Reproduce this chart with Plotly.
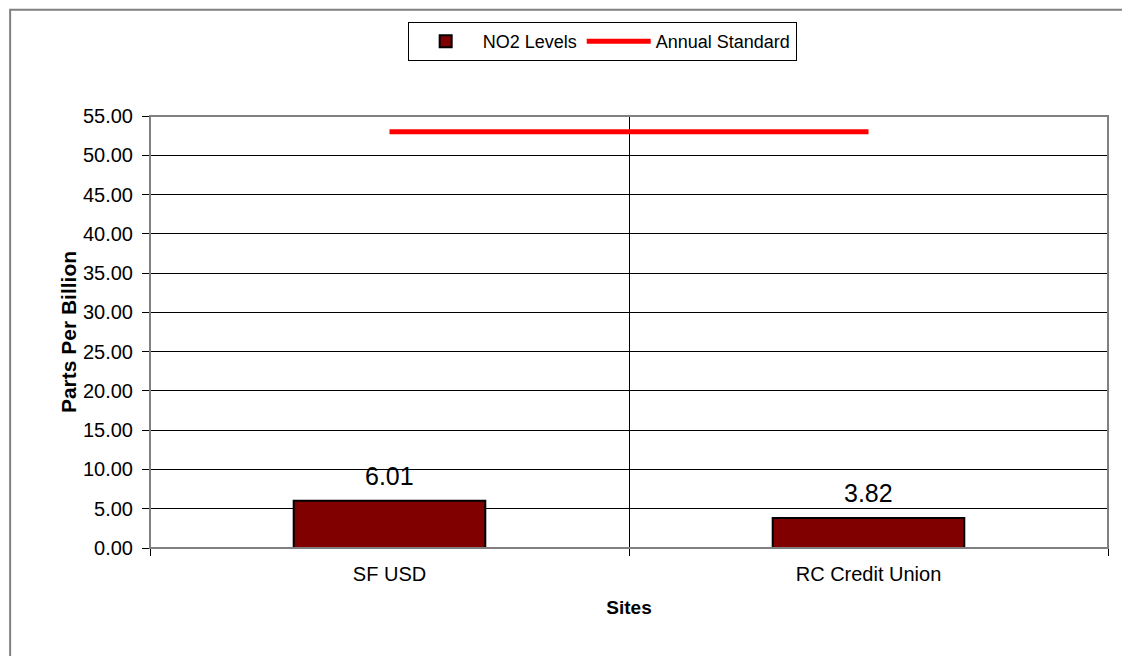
import plotly.graph_objects as go

sites = ["SF USD", "RC Credit Union"]
no2_levels = [6.01, 3.82]
annual_standard = [53, 53]
y_ticks = [0, 5, 10, 15, 20, 25, 30, 35, 40, 45, 50, 55]

FONT = "Liberation Sans, Arial, sans-serif"

fig = go.Figure()
fig.add_trace(go.Bar(
    x=sites, y=no2_levels, name="NO2 Levels", width=0.4,
    marker=dict(color="#800000", line=dict(color="#000000", width=2)),
))
fig.add_trace(go.Scatter(
    x=sites, y=annual_standard, name="Annual Standard", mode="lines",
    line=dict(color="#FF0000", width=5),
))

for s, v in zip(sites, no2_levels):
    fig.add_annotation(x=s, y=v, text=f"{v:.2f}", showarrow=False,
                       yanchor="bottom", yshift=9,
                       font=dict(family=FONT, size=25, color="#000000"))

# plot area frame
fig.add_shape(type="rect", xref="paper", yref="paper", x0=0, x1=1, y0=0, y1=1,
              line=dict(color="#808080", width=2), layer="above")
# outer chart frame
fig.add_shape(type="rect", xref="paper", yref="paper", x0=-0.146, x1=1.05,
              y0=-0.3, y1=1.246, line=dict(color="#808080", width=2))

fig.update_layout(
    width=1122, height=648,
    margin=dict(l=142, r=22, t=108, b=108),
    paper_bgcolor="white", plot_bgcolor="white",
    font=dict(family=FONT, color="#000000"),
    showlegend=True,
    legend=dict(orientation="h", x=0.472, xanchor="center", y=1.2176, yanchor="top",
                bordercolor="#000000", borderwidth=1, bgcolor="white",
                font=dict(family=FONT, size=18), itemwidth=64,
                traceorder="normal"),
    bargap=0.6,
)
fig.update_xaxes(
    type="category", range=[-0.5, 1.5], tickson="boundaries",
    ticks="outside", ticklen=7, tickcolor="#000000",
    showgrid=True, gridcolor="#000000", gridwidth=1,
    showline=False, tickfont=dict(family=FONT, size=20), ticklabelstandoff=12,
    title=dict(text="<b>Sites</b>", font=dict(family=FONT, size=19), standoff=16),
)
fig.update_yaxes(
    range=[0, 55], tickvals=y_ticks, tickformat=".2f",
    ticks="outside", ticklen=7, tickcolor="#000000",
    showgrid=True, gridcolor="#000000", gridwidth=1, zeroline=False,
    showline=False, tickfont=dict(family=FONT, size=20), ticklabelstandoff=5,
    title=dict(text="<b>Parts Per Billion</b>", font=dict(family=FONT, size=21), standoff=0),
)

fig.write_html("out.html")
